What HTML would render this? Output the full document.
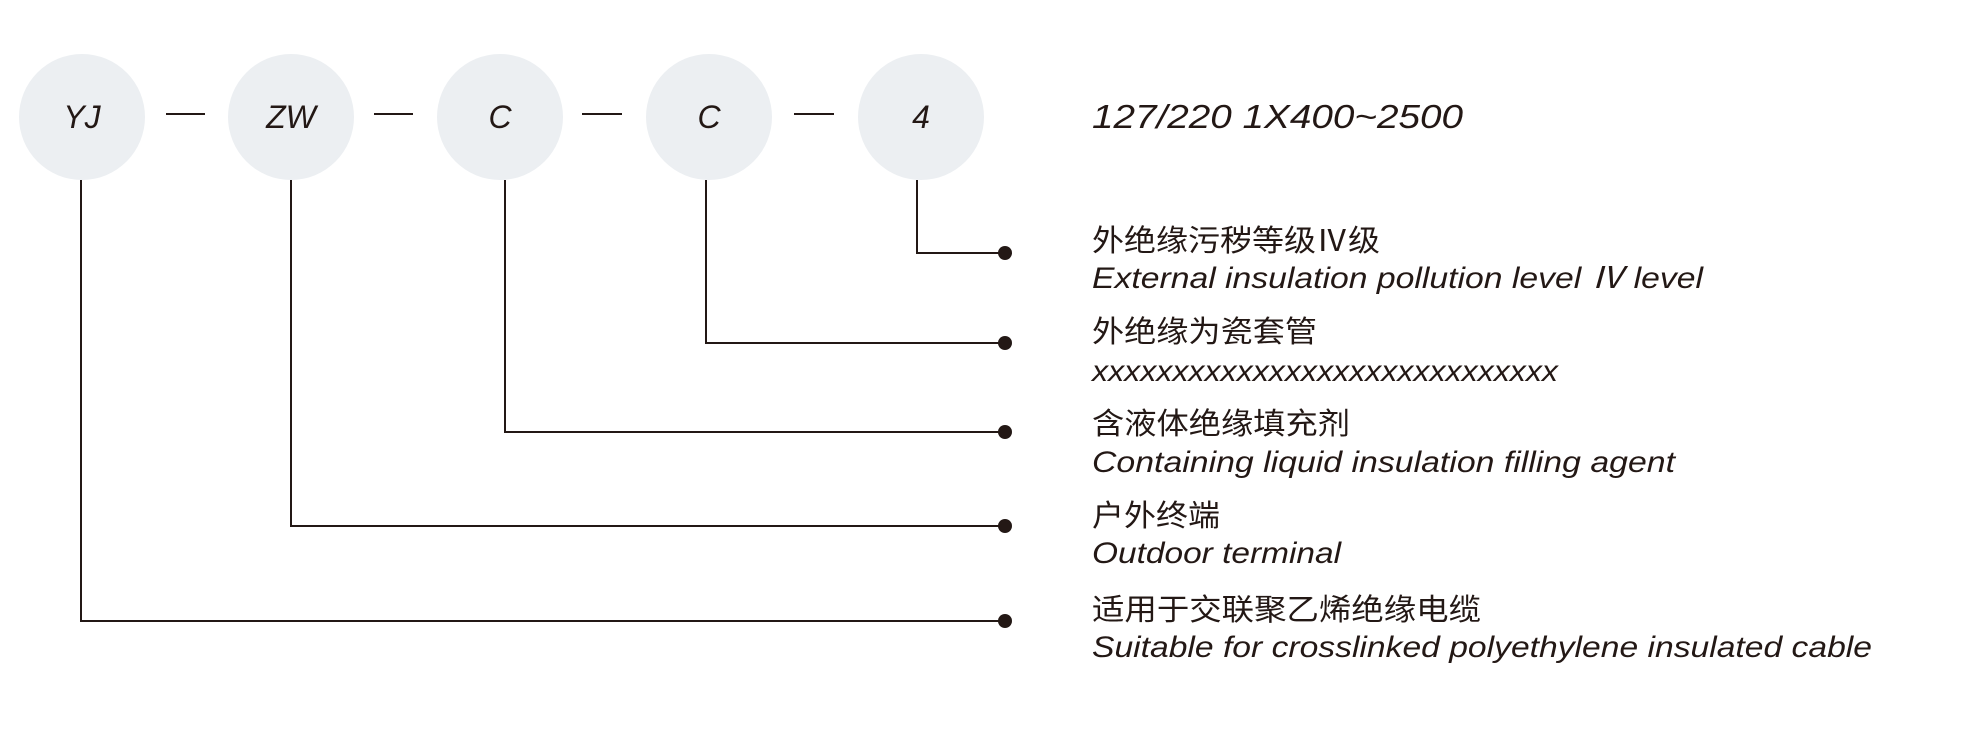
<!DOCTYPE html>
<html><head><meta charset="utf-8"><style>
html,body{margin:0;padding:0;background:#fff;}
svg{display:block;}
text{font-family:"Liberation Sans","Noto Sans CJK SC",sans-serif;fill:#231815;}
.i{font-style:italic;}
</style></head><body>
<svg width="1985" height="737" viewBox="0 0 1985 737" xmlns="http://www.w3.org/2000/svg">
<g fill="#eceff2">
<circle cx="82" cy="117" r="63"/><circle cx="291" cy="117" r="63"/><circle cx="500" cy="117" r="63"/><circle cx="709" cy="117" r="63"/><circle cx="921" cy="117" r="63"/>
</g>
<g class="i" font-size="32" text-anchor="middle">
<text class="i" x="82" y="128">YJ</text>
<text class="i" x="291" y="128">ZW</text>
<text class="i" x="500" y="128">C</text>
<text class="i" x="709" y="128">C</text>
<text class="i" x="921" y="128">4</text>
</g>
<g stroke="#231815" stroke-width="2" fill="none">
<line x1="166" y1="114" x2="205" y2="114"/><line x1="374" y1="114" x2="413" y2="114"/><line x1="582" y1="114" x2="622" y2="114"/><line x1="794" y1="114" x2="834" y2="114"/>
<polyline points="917,180 917,253 1004,253"/>
<polyline points="706,180 706,343 1004,343"/>
<polyline points="505,180 505,432 1004,432"/>
<polyline points="291,180 291,526 1004,526"/>
<polyline points="81,180 81,621 1004,621"/>
</g>
<g fill="#231815">
<circle cx="1005" cy="253" r="7"/><circle cx="1005" cy="343" r="7"/><circle cx="1005" cy="432" r="7"/><circle cx="1005" cy="526" r="7"/><circle cx="1005" cy="621" r="7"/>
</g>
<text class="i" x="1092" y="128" font-size="33" textLength="371" lengthAdjust="spacingAndGlyphs">127/220  1X400~2500</text>
<g font-size="30">
<text x="1092" y="251" textLength="288" lengthAdjust="spacingAndGlyphs">外绝缘污秽等级Ⅳ级</text>
<text class="i" x="1092" y="288" textLength="611" lengthAdjust="spacingAndGlyphs">External insulation pollution level Ⅳ level</text>
<text x="1092" y="342" textLength="225" lengthAdjust="spacingAndGlyphs">外绝缘为瓷套管</text>
<text class="i" x="1092" y="381" textLength="466" lengthAdjust="spacingAndGlyphs">xxxxxxxxxxxxxxxxxxxxxxxxxxxxx</text>
<text x="1092" y="434" textLength="258" lengthAdjust="spacingAndGlyphs">含液体绝缘填充剂</text>
<text class="i" x="1092" y="472" textLength="583" lengthAdjust="spacingAndGlyphs">Containing liquid insulation filling agent</text>
<text x="1092" y="526" textLength="128" lengthAdjust="spacingAndGlyphs">户外终端</text>
<text class="i" x="1092" y="563" textLength="249" lengthAdjust="spacingAndGlyphs">Outdoor terminal</text>
<text x="1092" y="620" textLength="389" lengthAdjust="spacingAndGlyphs">适用于交联聚乙烯绝缘电缆</text>
<text class="i" x="1092" y="657" textLength="780" lengthAdjust="spacingAndGlyphs">Suitable for crosslinked polyethylene insulated cable</text>
</g>
</svg>
</body></html>
